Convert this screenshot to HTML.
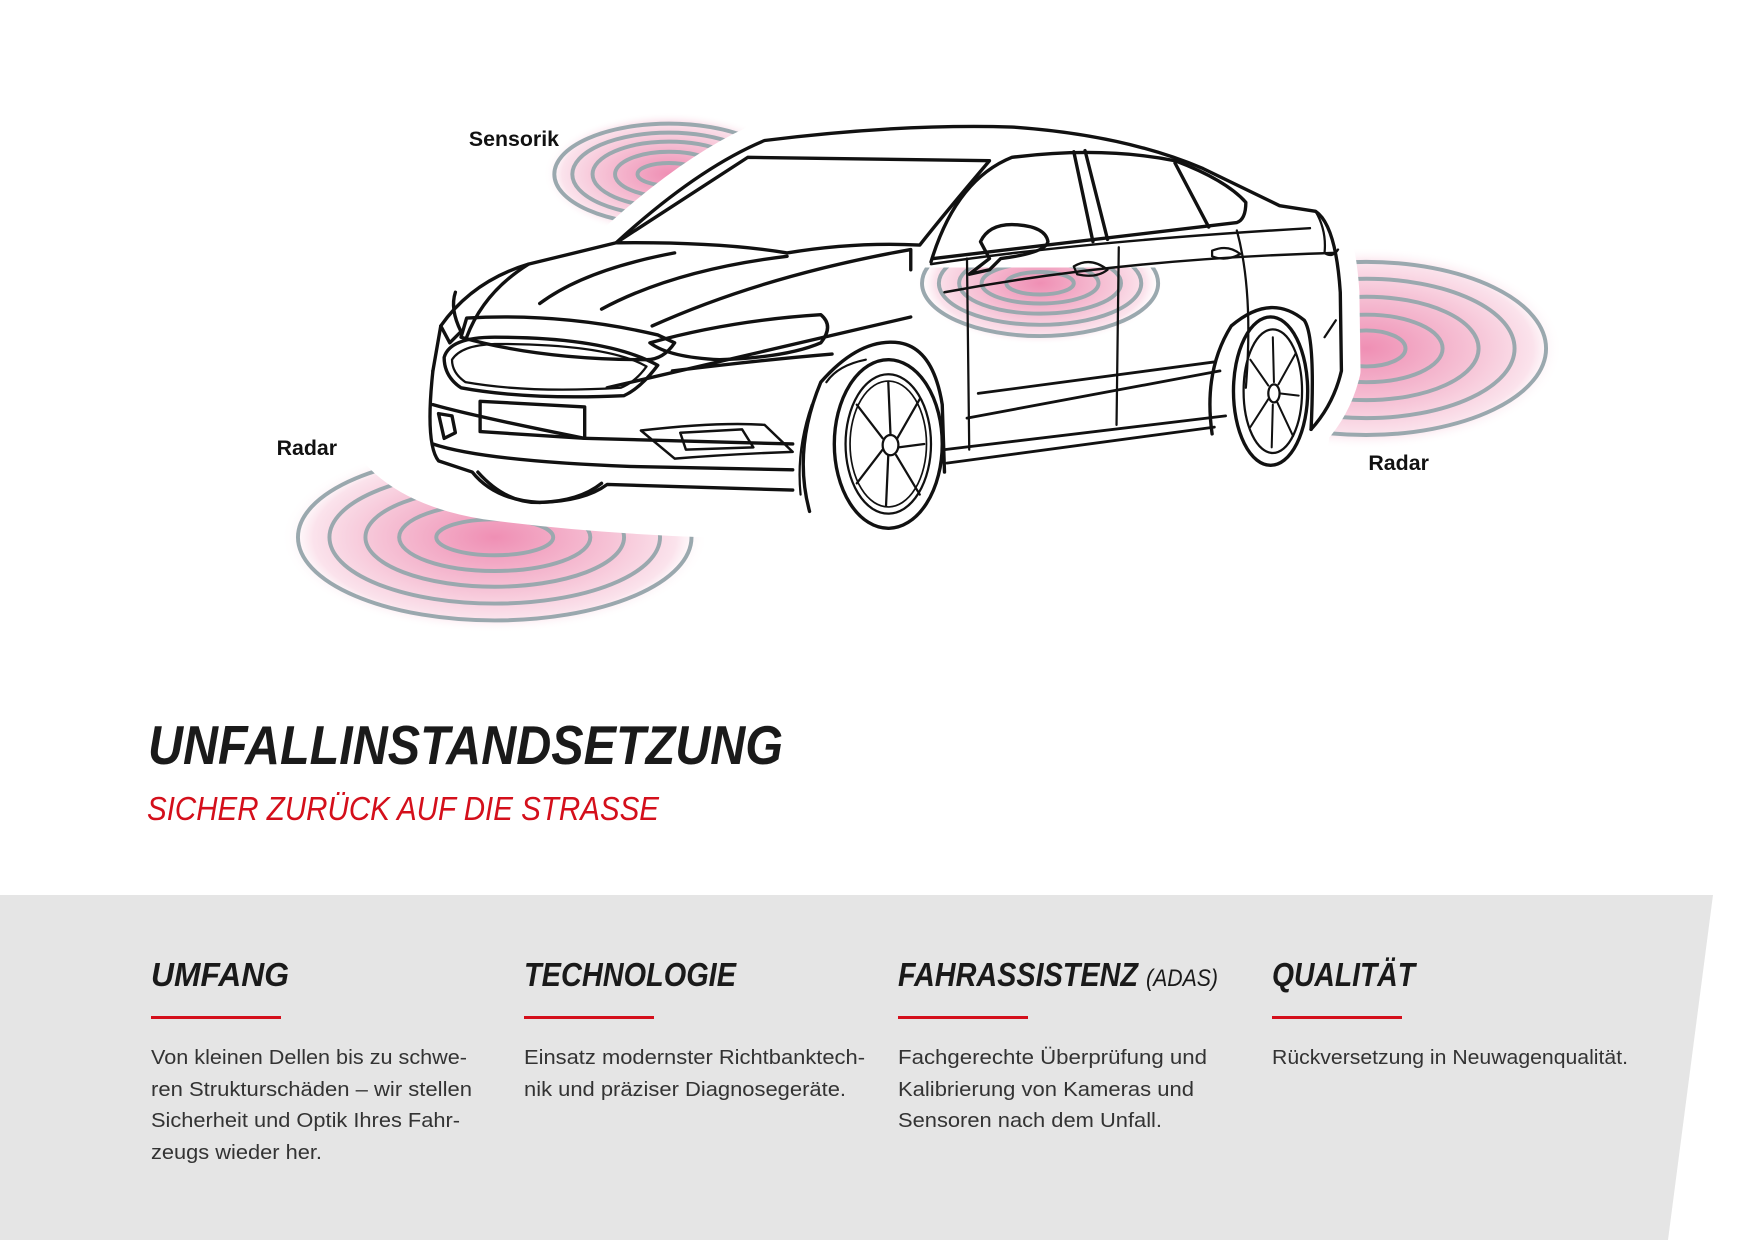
<!DOCTYPE html>
<html><head><meta charset="utf-8"><style>
html,body{margin:0;padding:0;background:#fff}
svg{display:block}
</style></head><body>
<svg width="1754" height="1240" viewBox="0 0 1754 1240" xmlns="http://www.w3.org/2000/svg">
<defs>
<radialGradient id="pk" cx="50%" cy="50%" r="50%">
<stop offset="0" stop-color="#ef8fb4"/>
<stop offset="0.55" stop-color="#f6c3d6"/>
<stop offset="0.85" stop-color="#fbe3ec"/>
<stop offset="1" stop-color="#fff" stop-opacity="0"/>
</radialGradient>
<clipPath id="dc"><rect x="800" y="238" width="260" height="100"/></clipPath>
</defs>
<rect width="1754" height="1240" fill="#fff"/>
<g transform="scale(1.1244,1.124)">
<g fill="none" stroke="#9aa8ae" stroke-width="3.5">
 <ellipse cx="595" cy="155" rx="112" ry="55" fill="url(#pk)" stroke="none"/>
 <ellipse cx="595" cy="155" rx="28" ry="10"/><ellipse cx="595" cy="155" rx="48" ry="20"/><ellipse cx="595" cy="155" rx="68" ry="29"/><ellipse cx="595" cy="155" rx="86" ry="37"/><ellipse cx="595" cy="155" rx="102" ry="45"/>
 <ellipse cx="440" cy="478" rx="190" ry="85" fill="url(#pk)" stroke="none"/>
 <ellipse cx="440" cy="478" rx="52" ry="16"/><ellipse cx="440" cy="478" rx="85" ry="30"/><ellipse cx="440" cy="478" rx="115" ry="44"/><ellipse cx="440" cy="478" rx="147" ry="59"/><ellipse cx="440" cy="478" rx="175" ry="74"/>
 <ellipse cx="1215" cy="310" rx="175" ry="90" fill="url(#pk)" stroke="none"/>
 <ellipse cx="1215" cy="310" rx="35" ry="16"/><ellipse cx="1215" cy="310" rx="68" ry="30"/><ellipse cx="1215" cy="310" rx="100" ry="46"/><ellipse cx="1215" cy="310" rx="132" ry="62"/><ellipse cx="1215" cy="310" rx="160" ry="77"/>
</g>
<path d="M300 370 Q325 445 430 462 Q520 474 625 478 L720 478 L720 370 Z" fill="#fff"/>
<path d="M385 330 L392 290 Q420 250 470 235 L548 216 Q620 150 680 125 Q800 110 900 113 Q1000 120 1070 150 L1138 183 L1170 188 Q1188 200 1192 260 L1193 330 Q1186 360 1166 382 L1162 412 L1078 412 L1072 386 L840 420 L830 455 Q800 475 760 468 L715 466 Q705 450 705 436 L540 431 Q520 446 480 447 Q440 445 420 420 L390 410 Q378 395 385 330 Z" fill="#fff" stroke="#fff" stroke-width="34" stroke-linejoin="round"/>
<g clip-path="url(#dc)" fill="none" stroke="#9aa8ae" stroke-width="3.5">
 <ellipse cx="925" cy="252" rx="110" ry="55" fill="url(#pk)" stroke="none"/>
 <ellipse cx="925" cy="252" rx="30" ry="10"/><ellipse cx="925" cy="252" rx="52" ry="18"/><ellipse cx="925" cy="252" rx="72" ry="27"/><ellipse cx="925" cy="252" rx="90" ry="37"/><ellipse cx="925" cy="252" rx="105" ry="47"/>
</g>
<g fill="none" stroke="#111" stroke-width="3" stroke-linejoin="round" stroke-linecap="round">
 <path d="M385 330 L392 290 Q420 250 470 235 L548 216 Q620 150 680 125 Q800 110 900 113 Q1000 120 1070 150 L1138 183 L1170 188 Q1188 200 1192 260 L1193 330 Q1186 360 1166 382"/>
 <path d="M385 330 Q378 395 390 410 L420 420 Q440 445 480 447 Q520 446 540 431 L705 436"/>
 <path d="M548 216 L665 140 L880 143 Q840 190 818 218 Q760 215 700 225 Q640 215 548 216" />
 <path d="M828 233 Q850 160 900 140 Q980 130 1045 143 Q1090 160 1108 180 Q1108 195 1100 198 L830 230"/>
 <path d="M955 135 L972 215 M965 134 L985 213 M1045 145 L1075 202"/>
 <path d="M862 244 L880 230 L872 215 Q880 198 905 200 Q930 202 932 215 Q930 225 890 230 L880 240 Z"/>
 <path d="M470 235 Q430 260 415 300 M480 270 Q520 240 600 225 M535 275 Q600 240 700 228 M580 290 Q680 245 810 222 L810 240"/>
 <path d="M392 290 L400 305 L410 295 Q400 275 405 260"/>
 <path d="M415 283 Q500 278 585 298 L600 305 Q590 320 575 320 Q480 320 410 300 Z"/>
 <path d="M395 318 Q400 300 440 300 Q540 300 585 325 Q570 345 555 352 Q470 356 410 345 Q395 335 395 318 Z"/>
 <path d="M402 320 Q410 307 440 306 Q540 306 575 326 Q565 340 552 345 Q470 350 414 340 Q402 332 402 320 Z" stroke-width="2"/>
 <path d="M578 305 Q650 285 730 280 Q742 290 730 305 Q700 318 640 320 Q595 318 578 305 Z"/>
 <path d="M598 330 Q680 320 740 315 M540 345 L810 282"/>
 <path d="M427 357 L520 362 L520 390 L427 384 Z"/>
 <path d="M385 360 Q420 370 520 390 L705 395 M385 395 Q430 410 560 415 L705 418"/>
 <path d="M390 368 L395 390 L405 385 L402 370 Z"/>
 <path d="M570 383 Q640 375 680 378 L705 402 Q650 404 600 408 Z M605 385 L660 382 L670 398 L610 400 Z" stroke-width="2.2"/>
 <path d="M425 420 Q450 448 480 447 Q515 446 535 430"/>
 <path d="M720 455 Q705 400 730 340 Q765 300 800 305 Q830 310 838 360 L840 420"/>
 <ellipse cx="790" cy="395" rx="48" ry="75"/>
 <ellipse cx="790" cy="395" rx="38" ry="62" stroke-width="2"/>
 <ellipse cx="790" cy="395" rx="34" ry="56" stroke-width="1.5"/>
 <ellipse cx="792" cy="396" rx="7" ry="9" stroke-width="2"/>
 <path d="M792 387 L790 340 M798 390 L818 355 M799 398 L822 395 M797 405 L818 440 M790 405 L788 450 M785 400 L762 430 M785 390 L762 360" stroke-width="2"/>
 <path d="M735 340 Q745 325 770 320 M712 440 Q708 400 722 360" stroke-width="2"/>
 <path d="M840 400 L1090 370 M842 412 L1080 380 M860 372 L1085 330 M870 350 L1080 322" stroke-width="2.5"/>
 <path d="M860 230 L862 400 M995 220 L993 378 M1100 205 Q1115 260 1108 345" stroke-width="2"/>
 <path d="M828 235 Q960 215 1165 203 M840 260 Q1000 230 1188 225" stroke-width="2.2"/>
 <path d="M955 237 Q970 228 985 240 Q975 248 958 244 Z M1078 223 Q1092 217 1103 226 Q1090 233 1078 228 Z" stroke-width="2"/>
 <path d="M1078 386 Q1070 330 1095 290 Q1130 260 1160 285 Q1170 300 1166 382"/>
 <ellipse cx="1130" cy="348" rx="33" ry="66"/>
 <ellipse cx="1132" cy="348" rx="26" ry="55" stroke-width="2"/>
 <ellipse cx="1133" cy="350" rx="5" ry="8" stroke-width="2"/>
 <path d="M1133 340 L1132 300 M1137 342 L1152 315 M1138 350 L1155 352 M1136 358 L1150 388 M1132 360 L1131 398 M1128 355 L1112 380 M1128 343 L1112 320" stroke-width="1.8"/>
 <path d="M1170 188 Q1180 205 1178 225 Q1185 230 1190 222 M1188 285 L1178 300" stroke-width="2"/>
</g>
<g font-family="Liberation Sans, sans-serif" font-size="19" fill="#111" font-weight="bold">
 <text x="417" y="130">Sensorik</text>
 <text x="246" y="405">Radar</text>
 <text x="1217" y="418">Radar</text>
</g>
</g>
<text x="148" y="764" font-family="Liberation Sans, sans-serif" font-weight="bold" font-style="italic" font-size="55" fill="#1a1a1a" textLength="635" lengthAdjust="spacingAndGlyphs">UNFALLINSTANDSETZUNG</text>
<text x="147" y="820" font-family="Liberation Sans, sans-serif" font-style="italic" font-size="33" fill="#d40f1b" textLength="512" lengthAdjust="spacingAndGlyphs">SICHER ZURÜCK AUF DIE STRASSE</text>
<path d="M0 895 L1713 895 L1668 1240 L0 1240 Z" fill="#e5e5e5"/>
<g font-family="Liberation Sans, sans-serif" font-style="italic" font-weight="bold" font-size="33" fill="#1a1a1a">
 <text x="151" y="986" textLength="138" lengthAdjust="spacingAndGlyphs">UMFANG</text>
 <text x="524" y="986" textLength="212" lengthAdjust="spacingAndGlyphs">TECHNOLOGIE</text>
 <text x="898" y="986" textLength="240" lengthAdjust="spacingAndGlyphs">FAHRASSISTENZ</text>
 <text x="1146" y="986" font-weight="normal" font-size="24" textLength="72" lengthAdjust="spacingAndGlyphs">(ADAS)</text>
 <text x="1272" y="986" textLength="143" lengthAdjust="spacingAndGlyphs">QUALITÄT</text>
</g>
<g fill="#d40f1b">
 <rect x="151" y="1016" width="130" height="3"/>
 <rect x="524" y="1016" width="130" height="3"/>
 <rect x="898" y="1016" width="130" height="3"/>
 <rect x="1272" y="1016" width="130" height="3"/>
</g>
<g font-family="Liberation Sans, sans-serif" font-size="20" fill="#333">
 <text x="151" y="1064" textLength="316" lengthAdjust="spacingAndGlyphs">Von kleinen Dellen bis zu schwe-</text>
 <text x="151" y="1096" textLength="321" lengthAdjust="spacingAndGlyphs">ren Strukturschäden – wir stellen</text>
 <text x="151" y="1127" textLength="309" lengthAdjust="spacingAndGlyphs">Sicherheit und Optik Ihres Fahr-</text>
 <text x="151" y="1159" textLength="171" lengthAdjust="spacingAndGlyphs">zeugs wieder her.</text>
 <text x="524" y="1064" textLength="341" lengthAdjust="spacingAndGlyphs">Einsatz modernster Richtbanktech-</text>
 <text x="524" y="1096" textLength="322" lengthAdjust="spacingAndGlyphs">nik und präziser Diagnosegeräte.</text>
 <text x="898" y="1064" textLength="309" lengthAdjust="spacingAndGlyphs">Fachgerechte Überprüfung und</text>
 <text x="898" y="1096" textLength="296" lengthAdjust="spacingAndGlyphs">Kalibrierung von Kameras und</text>
 <text x="898" y="1127" textLength="264" lengthAdjust="spacingAndGlyphs">Sensoren nach dem Unfall.</text>
 <text x="1272" y="1064" textLength="356" lengthAdjust="spacingAndGlyphs">Rückversetzung in Neuwagenqualität.</text>
</g>
</svg>
</body></html>
